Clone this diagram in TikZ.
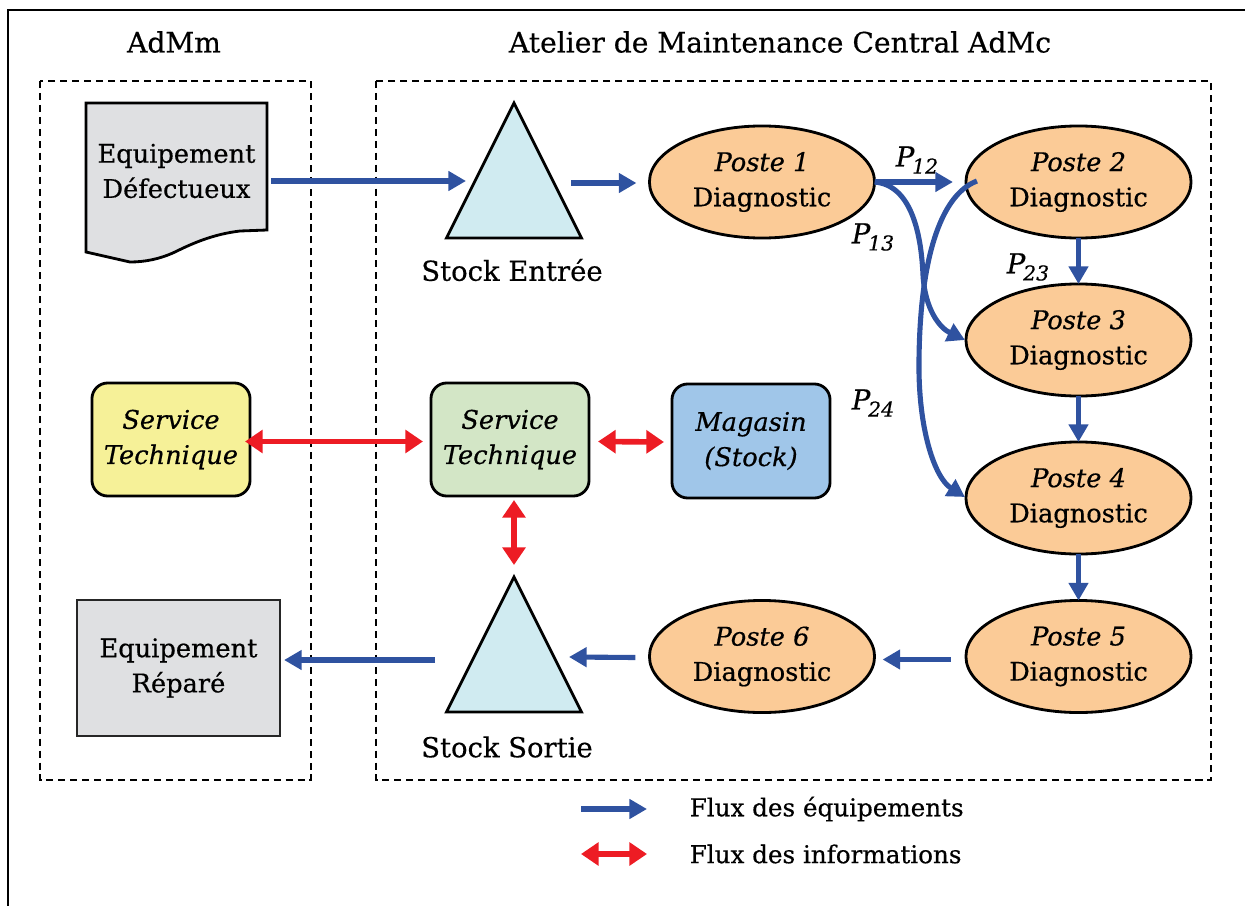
\documentclass[tikz,border=0pt]{standalone}
\usepackage{fontspec}
\setmainfont{DejaVu Serif}[UprightFeatures={FakeBold=0.5}, ItalicFeatures={FakeBold=0.5}]
\usetikzlibrary{arrows.meta,shapes.geometric,calc}
\definecolor{flowblue}{RGB}{47,82,160}
\definecolor{infored}{RGB}{237,28,36}
\definecolor{posteorange}{RGB}{251,203,151}
\definecolor{trifill}{RGB}{208,235,241}
\definecolor{docgray}{RGB}{223,224,226}
\definecolor{stjaune}{RGB}{246,241,152}
\definecolor{stvert}{RGB}{211,230,198}
\definecolor{magbleu}{RGB}{160,198,233}
\tikzset{
  txt/.style={font=\fontsize{7.3}{10}\selectfont, align=center, inner sep=0pt, outer sep=0pt},
  poste/.style={txt, ellipse, draw, line width=0.8pt, fill=posteorange, minimum width=2.25cm, minimum height=1.12cm},
  rbox/.style={txt, rounded corners=4.5pt, draw, line width=0.8pt, minimum width=1.58cm, minimum height=1.13cm},
  tri/.style={isosceles triangle, isosceles triangle stretches, shape border rotate=90, minimum width=1.35cm, minimum height=1.35cm, inner sep=0pt, outer sep=0pt, draw, line width=0.8pt, fill=trifill},
  flow/.style={draw=flowblue, line width=1.45pt, -{Triangle[length=5pt,width=5.4pt]}},
  info/.style={draw=infored, line width=1.6pt, {Triangle[length=5pt,width=6.4pt]}-{Triangle[length=5pt,width=6.4pt]}},
  ttl/.style={font=\fontsize{8}{10}\selectfont, inner sep=0pt},
  trilbl/.style={font=\fontsize{7.8}{10}\selectfont, inner sep=0pt},
  plbl/.style={font=\fontsize{7.8}{10}\selectfont\itshape, inner sep=0pt},
  leg/.style={font=\fontsize{7}{10}\selectfont, inner sep=0pt, anchor=west},
  zone/.style={dash pattern=on 2pt off 1.4pt, line width=0.45pt},
}
\newcommand{\pl}[1]{P\kern-0.6pt\raisebox{-0.5ex}{\fontsize{5.8}{7}\selectfont #1}}
\begin{document}
\begin{tikzpicture}[x=0.01cm,y=-0.01cm]
\useasboundingbox (0,0) rectangle (1245,906);
% outer frame
\draw[line width=0.6pt] (8,906) -- (8,10) -- (1245,10);
% titles
\node[ttl] (t1) at (174,42) {AdMm};
\node[ttl] (t2) at (780,42) {Atelier de Maintenance Central AdMc};
% zones
\draw[zone] (40,81) rectangle (311,780);
\draw[zone] (376,81) rectangle (1211,780);
% document shape
\draw[line width=0.8pt, fill=docgray] (86,103) -- (267,103) -- (267,230) -- (240,231) .. controls (215,234) and (195,242) .. (175,252) .. controls (160,259) and (145,262) .. (130,262) -- (86,252) -- cycle;
\node[txt, minimum width=1.81cm] (equip) at (176.5,171) {Equipement\\Défectueux};
% stocks
\node[tri, anchor=apex] (stin) at (514,103) {};
\node[trilbl] (stinlbl) at (512,270) {Stock Entrée};
\node[tri, anchor=apex] (stout) at (514,577) {};
\node[trilbl] (stoutlbl) at (507,747) {Stock Sortie};
% postes
\node[poste] (p1) at (762,182) {{\itshape Poste 1}\\Diagnostic};
\node[poste] (p2) at (1078.5,182) {{\itshape Poste 2}\\Diagnostic};
\node[poste] (p3) at (1078.5,340) {{\itshape Poste 3}\\Diagnostic};
\node[poste] (p4) at (1078.5,498) {{\itshape Poste 4}\\Diagnostic};
\node[poste] (p5) at (1078.5,656.5) {{\itshape Poste 5}\\Diagnostic};
\node[poste] (p6) at (762,656.5) {{\itshape Poste 6}\\Diagnostic};
% boxes
\node[rbox, fill=stjaune, font=\fontsize{7.3}{10}\selectfont\itshape] (st1) at (171,439.5) {Service\\Technique};
\node[rbox, fill=stvert, font=\fontsize{7.3}{10}\selectfont\itshape] (st2) at (510,439.5) {Service\\Technique};
\node[rbox, fill=magbleu, font=\fontsize{7.3}{10}\selectfont\itshape, minimum height=1.14cm] (mag) at (751,441) {Magasin\\(Stock)};
\node[txt, draw=black!85, line width=0.8pt, fill=docgray, minimum width=2.03cm, minimum height=1.36cm] (rep) at (178.5,668) {Equipement\\Réparé};
% equipment flows
\draw[flow] ($(equip.east)+(4,10)$) -- ($(stin.apex)+(-48,78)$);
\draw[flow] ($(stin.apex)+(57,80)$) -- ($(p1.west)+(-13,1)$);
\draw[flow] (p1.east) -- ($(p2.west)+(-13,0)$);
\draw[flow] (p1.east) .. controls (910,185) and (921,230) .. (923,275) .. controls (925,310) and (940,328) .. ($(p3.west)+(-1,0)$);
\draw[flow] ($(p2.west)+(11,-1)$) .. controls (940,195) and (920,260) .. (919,360) .. controls (918,430) and (935,478) .. ($(p4.west)+(-1,-1)$);
\draw[flow] (p2) -- (p3);
\draw[flow] (p3) -- (p4);
\draw[flow] (p4) -- (p5);
\draw[flow] ($(p5.west)+(-15,3)$) -- ($(p6.east)+(8,3)$);
\draw[flow] ($(p6.west)+(-14,1)$) -- ($(stout.apex)+(55,80)$);
\draw[flow] ($(stout.apex)+(-79,83)$) -- ($(rep.east)+(4,-8)$);
% flow labels
\node[plbl] (l12) at (917,160) {\pl{12}};
\node[plbl] (l13) at (873,237) {\pl{13}};
\node[plbl] (l23) at (1028,267) {\pl{23}};
\node[plbl] (l24) at (873,403) {\pl{24}};
% information flows
\draw[info] ($(st1.east)+(-5,2)$) -- ($(st2.west)+(-8,2)$);
\draw[info] ($(st2.east)+(9,2)$) -- ($(mag.west)+(-8,1)$);
\draw[info] ($(st2.south)+(4,4)$) -- ($(stout.apex)+(0,-12)$);
% legend
\coordinate (la1) at (581,809);
\coordinate (la2) at (647,809);
\coordinate (lb1) at (581,854);
\coordinate (lb2) at (647,854);
\draw[flow] (la1) -- (la2);
\draw[info] (lb1) -- (lb2);
\node[leg] (lt1) at (689,809) {Flux des équipements};
\node[leg] (lt2) at (689,854) {Flux des informations};
\end{tikzpicture}
\end{document}
